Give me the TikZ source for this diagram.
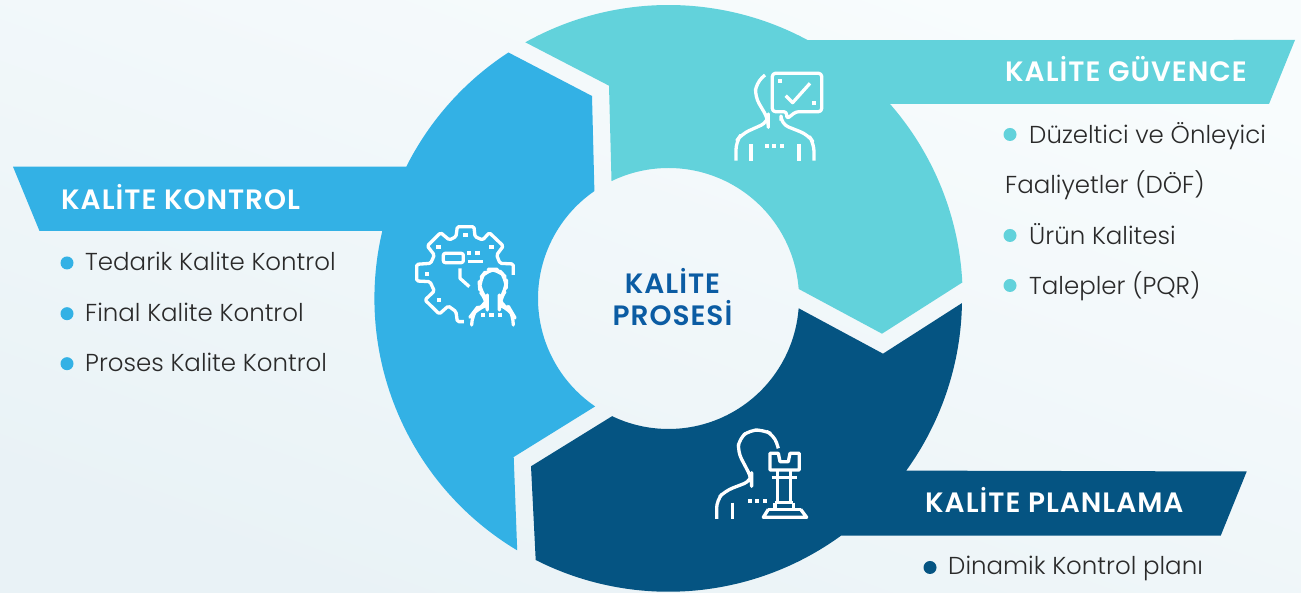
\documentclass[tikz,border=0pt]{standalone}
\usepackage{fontspec}
\usetikzlibrary{calc}
\setmainfont{Poppins}
\newfontfamily\headfont{Poppins}[UprightFont=* SemiBold,LetterSpace=3.5]
\newfontfamily\listfont{Poppins}[UprightFont=* Light]
\definecolor{tealpart}{HTML}{62D2DB}
\definecolor{bluepart}{HTML}{33B1E5}
\definecolor{darkpart}{HTML}{055482}
\definecolor{centertext}{HTML}{0B5CA3}
\definecolor{listtext}{HTML}{2A2A2A}
\definecolor{backleft}{HTML}{F8FCFD}
\definecolor{backright}{HTML}{E9F2F6}
\tikzset{
  headtext/.style={anchor=base west,inner sep=0pt,text=white,font=\headfont\fontsize{28}{28}\selectfont},
  listitem/.style={anchor=base west,inner sep=0pt,text=listtext,font=\listfont\fontsize{24.5}{24.5}\selectfont},
  midtext/.style={anchor=base,inner sep=0pt,text=centertext,font=\headfont\fontsize{28}{28}\selectfont},
  iconline/.style={draw=white,line width=3.3pt,line join=round},
}
\begin{document}
\begin{tikzpicture}[x=1pt,y=1pt]
  \useasboundingbox (0,0) rectangle (1301,593);
  \shade[left color=backleft,right color=backright,shading angle=-20] (0,0) rectangle (1301,593);
  \coordinate (mid) at (668.5,294.5);
  \def\outR{293.5}
  \def\inR{130.5}
  % the three parts of the ring
  \fill[tealpart] ($(mid)+(119.2:\outR)$) arc[start angle=119.2,end angle=61.7,radius=\outR]
    -- (1295,553) -- (1269,489) -- (890,489)
    arc[start angle=41.2,end angle=2.9,radius=\outR]
    -- (882,259.3) -- ($(mid)+(4.2:\inR)$)
    arc[start angle=4.2,end angle=115.9,radius=\inR]
    -- (609,507.3) -- cycle;
  \fill[bluepart] ($(mid)+(123.05:\outR)$) arc[start angle=123.05,end angle=153.3,radius=\outR]
    -- (13,426.3) -- (39.5,362) -- (382.3,362)
    arc[start angle=166.7,end angle=239.1,radius=\outR]
    -- (513.7,136) -- ($(mid)+(235.8:\inR)$)
    arc[start angle=235.8,end angle=124.6,radius=\inR]
    -- (592,497) -- cycle;
  \fill[darkpart] (531,126.7) -- ($(mid)+(244.4:\inR)$)
    arc[start angle=244.4,end angle=355.7,radius=\inR]
    -- (883,239.3) -- ($(mid)+(359.1:\outR)$)
    arc[start angle=359.1,end angle=324.1,radius=\outR]
    -- (1246.7,121.5) -- (1220.7,57.3) -- (841,57.3)
    arc[start angle=306,end angle=243.1,radius=\outR] -- cycle;
  % heads
  \node[headtext] (kontrolhead) at (61,383) {KALİTE KONTROL};
  \node[headtext] (guvencehead) at (1005,511) {KALİTE GÜVENCE};
  \node[headtext] (planhead) at (925,80) {KALİTE PLANLAMA};
  \node[midtext] (midone) at (672.5,299) {KALİTE};
  \node[midtext] (midtwo) at (672.5,267) {PROSESİ};
  % lists
  \foreach \i/\y/\t in {1/322.5/Tedarik Kalite Kontrol, 2/271.8/Final Kalite Kontrol, 3/221.8/Proses Kalite Kontrol}{
    \node[listitem] (kontrol\i) at (85,\y) {\t};
    \fill[bluepart] (67,\y+7.5) circle (6.5);}
  \foreach \i/\y/\t in {1/449.5/Düzeltici ve Önleyici, 3/348.5/Ürün Kalitesi, 4/298.5/Talepler (PQR)}{
    \node[listitem] (guvence\i) at (1029,\y) {\t};
    \fill[tealpart] (1010,\y+9) circle (6.5);}
  \node[listitem] (guvence2) at (1005,399) {Faaliyetler (DÖF)};
  \node[listitem] (plan1) at (948,18.5) {Dinamik Kontrol planı};
  \fill[darkpart] (930,25.5) circle (6.5);
  % gear icon
  \begin{scope}[shift={(400,383)},x=0.3333pt,y=-0.3333pt]
    \draw[iconline,rounded corners=1.5pt] (192,335) -- (172,335) -- (168,305) -- (145,288) -- (118,312) -- (75,270) -- (103,243) -- (90,215) -- (50,213) -- (50,163) -- (92,160) -- (103,135) -- (82,108) -- (122,68) -- (148,90) -- (168,80) -- (172,50) -- (222,50) -- (225,80) -- (248,90) -- (268,68) -- (310,108) -- (290,135) -- (300,160) -- (340,162) -- (340,195);
    \draw[iconline,rounded corners=2pt] (130,130) rectangle (190,158);
    \draw[iconline] (203,155) -- (248,155);
    \draw[iconline] (180,175) -- (180,205) -- (208,230);
    \draw[iconline,rounded corners=10pt] (215,340) -- (215,315) -- (228,298) -- (262,285) -- (262,270) -- (240,245) -- (237,210) -- (262,178) -- (295,178) -- (320,205) -- (318,240) -- (298,270) -- (298,285) -- (330,298) -- (340,315) -- (340,340);
    \foreach \x/\y in {197/76, 115/111, 275/112, 80/193, 116/271, 208/130, 233/130, 250/316, 275/316, 300/316}
      \fill[white] (\x-6.5,\y-6.5) rectangle (\x+6.5,\y+6.5);
  \end{scope}
  % chat icon
  \begin{scope}[shift={(720,533)},x=0.3333pt,y=-0.3333pt]
    \draw[iconline,rounded corners=8pt] (135,45) -- (108,70) -- (105,110) -- (145,178) -- (145,186) -- (65,222) -- (48,245) -- (48,302);
    \draw[iconline,rounded corners=8pt] (183,182) -- (183,192) -- (265,225) -- (282,250) -- (282,302);
    \draw[iconline] (93,252) -- (93,302);
    \draw[iconline] (237,252) -- (237,302);
    \draw[iconline,rounded corners=3pt] (200,155) -- (157,155) -- (157,40) -- (305,40) -- (305,155) -- (228,155) -- (200,177) -- cycle;
    \draw[iconline] (197,107) -- (218,128) -- (270,70);
    \foreach \x/\y in {140/257, 163/257, 185/257, 180/62, 282/128}
      \fill[white] (\x-6,\y-6) rectangle (\x+6,\y+6);
  \end{scope}
  % rook icon
  \begin{scope}[shift={(700,173)},x=0.3333pt,y=-0.3333pt]
    \draw[iconline,rounded corners=8pt] (235,85) -- (222,45) -- (190,30) -- (150,30) -- (118,55) -- (113,95) -- (155,175) -- (155,182) -- (75,213) -- (50,240) -- (50,297);
    \draw[iconline] (98,248) -- (98,298);
    \draw[iconline] (210,100) -- (235,100) -- (240,125) -- (265,125) -- (270,100) -- (298,100) -- (298,150) -- (210,150) -- cycle;
    \draw[iconline] (215,172) -- (292,172);
    \draw[iconline] (232,150) -- (232,248);
    \draw[iconline] (272,150) -- (272,248);
    \draw[iconline] (225,248) -- (280,248);
    \draw[iconline] (225,248) -- (225,268);
    \draw[iconline] (280,248) -- (280,268);
    \draw[iconline] (205,268) -- (302,268);
    \draw[iconline] (205,268) -- (190,292) -- (320,292) -- (302,268);
    \foreach \x/\y in {150/243, 172/243, 195/243}
      \fill[white] (\x-6,\y-5) rectangle (\x+6,\y+5);
  \end{scope}
\end{tikzpicture}
\end{document}
